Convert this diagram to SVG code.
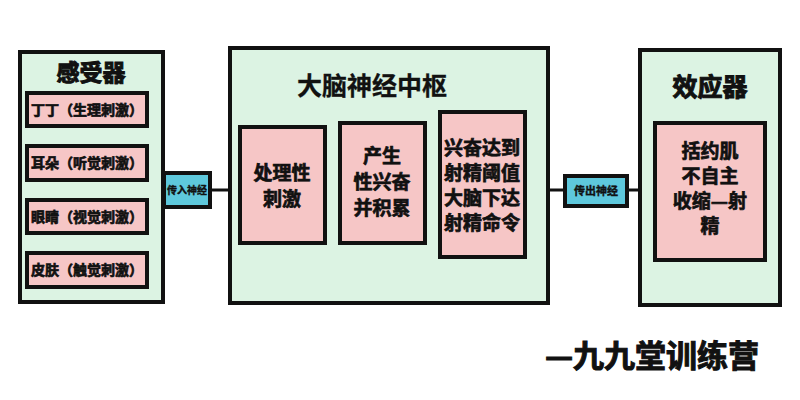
<svg xmlns="http://www.w3.org/2000/svg" width="800" height="400" viewBox="0 0 800 400">
<style>
.outer{fill:#dcf3e3;stroke:#111;stroke-width:4}
.box{fill:#f6c6c6;stroke:#111;stroke-width:4}
.nerve{fill:#5ec8dc;stroke:#111;stroke-width:4}
text{font-family:"Noto Sans CJK SC",sans-serif;font-weight:bold;fill:#111;text-anchor:middle;stroke:#111;stroke-width:0.7}
.s{font-size:14px}
.n{font-size:10px;stroke-width:0.4}
.m{font-size:19px}
.l{font-size:23px;stroke-width:1}
.c line{stroke:#111;stroke-width:3}
</style>
<rect width="800" height="400" fill="#fff"/>
<g class="c" id="connectors">
<line x1="147" y1="110" x2="153" y2="110"/>
<line x1="147" y1="163" x2="163" y2="163"/>
<line x1="147" y1="217" x2="163" y2="217"/>
<line x1="147" y1="270" x2="163" y2="270"/>
<line x1="210" y1="190" x2="230" y2="190"/>
<line x1="525" y1="190" x2="565" y2="190"/>
<line x1="627" y1="190" x2="640" y2="190"/>
</g>
<g id="receptor">
<rect class="outer" x="20" y="52" width="143" height="250"/>
<text class="l" x="91" y="81">感受器</text>
<rect class="box" x="27" y="93" width="120" height="33"/>
<text class="s" x="87" y="115">丁丁（生理刺激）</text>
<rect class="box" x="27" y="146" width="120" height="34"/>
<text class="s" x="87" y="168">耳朵（听觉刺激）</text>
<rect class="box" x="27" y="200" width="120" height="33"/>
<text class="s" x="87" y="222">眼睛（视觉刺激）</text>
<rect class="box" x="27" y="253" width="120" height="34"/>
<text class="s" x="87" y="275">皮肤（触觉刺激）</text>
</g>
<g id="afferent">
<rect class="nerve" x="164" y="173" width="46" height="34"/>
<text class="n" x="187" y="194">传入神经</text>
</g>
<g id="brain">
<rect class="outer" x="230" y="48" width="318" height="255"/>
<text x="372" y="95" style="font-size:25px;stroke-width:0.3">大脑神经中枢</text>
<rect class="box" x="240" y="127" width="85" height="116"/>
<text class="m" x="282" y="180">处理性</text>
<text class="m" x="282" y="206">刺激</text>
<rect class="box" x="340" y="123" width="85" height="120"/>
<text class="m" x="382" y="163">产生</text>
<text class="m" x="382" y="189">性兴奋</text>
<text class="m" x="382" y="215">并积累</text>
<rect class="box" x="440" y="112" width="85" height="145"/>
<text class="m" x="482" y="155">兴奋达到</text>
<text class="m" x="482" y="180">射精阈值</text>
<text class="m" x="482" y="205">大脑下达</text>
<text class="m" x="482" y="230">射精命令</text>
</g>
<g id="efferent">
<rect class="nerve" x="565" y="176" width="62" height="30"/>
<text class="n" x="596" y="195" style="font-size:11px">传出神经</text>
</g>
<g id="effector">
<rect class="outer" x="640" y="50" width="140" height="255"/>
<text class="l" x="710" y="96" style="font-size:25px">效应器</text>
<rect class="box" x="655" y="123" width="110" height="137"/>
<text class="m" x="710" y="158">括约肌</text>
<text class="m" x="710" y="183">不自主</text>
<text class="m" x="710" y="208">收缩—射</text>
<text class="m" x="710" y="233">精</text>
</g>
<text x="652" y="367" style="font-size:31px;stroke-width:1">—九九堂训练营</text>
</svg>
